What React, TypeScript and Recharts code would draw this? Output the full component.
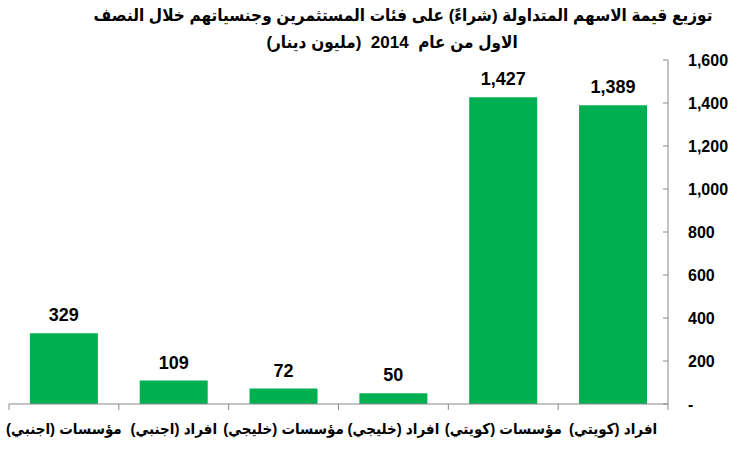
import { BarChart, Bar, XAxis, YAxis, LabelList } from "recharts";

const categories = [
  "مؤسسات (اجنبي)",
  "افراد (اجنبي)",
  "مؤسسات (خليجي)",
  "افراد (خليجي)",
  "مؤسسات (كويتي)",
  "افراد (كويتي)",
];
const values = [329, 109, 72, 50, 1427, 1389];
const yTicks = [0, 200, 400, 600, 800, 1000, 1200, 1400, 1600];
const titleLine1 = "توزيع قيمة الاسهم المتداولة (شراءً) على فئات المستثمرين وجنسياتهم خلال النصف";
const titleLine2 = "الاول من عام  2014  (مليون دينار)";

const data = categories.map((name, i) => ({ name, value: values[i] }));

const FONT = "Arial, 'Liberation Sans', 'DejaVu Sans Condensed', 'DejaVu Sans', sans-serif";
const AXIS = "#898989";
const BAND = (740 - 9 - 72) / 6;

const fmt = (v: number) => (v === 0 ? "-" : v.toLocaleString("en-US"));

function XTick(props: any) {
  const { x, y, payload, index } = props;
  return (
    <g>
      <line x1={x - BAND / 2} x2={x - BAND / 2} y1={y} y2={y + 6} stroke={AXIS} />
      {index === categories.length - 1 && (
        <line x1={x + BAND / 2} x2={x + BAND / 2} y1={y} y2={y + 6} stroke={AXIS} />
      )}
      <text
        x={x}
        y={y + 24}
        textAnchor="middle"
        dominantBaseline="central"
        direction="rtl"
        fontSize={15}
        fontWeight="bold"
        fontFamily={FONT}
        fill="#000"
      >
        {payload.value}
      </text>
    </g>
  );
}

function YTick(props: any) {
  const { x, y, payload } = props;
  return (
    <g>
      <line x1={x - 5} x2={x} y1={y} y2={y} stroke={AXIS} />
      <text
        x={x + 20}
        y={y}
        textAnchor="start"
        dominantBaseline="central"
        fontSize={16}
        fontWeight="bold"
        fontFamily={FONT}
        fill="#000"
      >
        {fmt(payload.value)}
      </text>
    </g>
  );
}

export default function App() {
  return (
    <div style={{ position: "absolute", left: 0, top: 0, width: 740, height: 450, background: "#fff", fontFamily: FONT }}>
      <div
        style={{
          position: "absolute", top: 5, left: 403, transform: "translateX(-50%)",
          whiteSpace: "nowrap", direction: "rtl", fontSize: 17, fontWeight: "bold", lineHeight: "22px",
        }}
      >
        {titleLine1}
      </div>
      <div
        style={{
          position: "absolute", top: 32, left: 392, transform: "translateX(-50%)",
          whiteSpace: "pre", direction: "rtl", fontSize: 17, fontWeight: "bold", lineHeight: "22px",
        }}
      >
        {titleLine2}
      </div>
      <BarChart
        width={740}
        height={450}
        data={data}
        margin={{ top: 60, right: 12, bottom: 16, left: 9 }}
        barCategoryGap="19%"
      >
        <XAxis
          dataKey="name"
          height={30}
          tickLine={false}
          tickSize={0}
          tickMargin={0}
          interval={0}
          axisLine={{ stroke: AXIS }}
          tick={<XTick />}
        />
        <YAxis
          orientation="right"
          width={60}
          domain={[0, 1600]}
          ticks={yTicks}
          interval={0}
          tickLine={false}
          tickSize={0}
          tickMargin={0}
          axisLine={{ stroke: AXIS }}
          tick={<YTick />}
        />
        <Bar dataKey="value" fill="#00B050" isAnimationActive={false}>
          <LabelList
            dataKey="value"
            position="top"
            offset={12}
            formatter={(v: any) => fmt(Number(v))}
            style={{ fontSize: 18, fontWeight: "bold", fontFamily: FONT, fill: "#000" }}
          />
        </Bar>
      </BarChart>
    </div>
  );
}
